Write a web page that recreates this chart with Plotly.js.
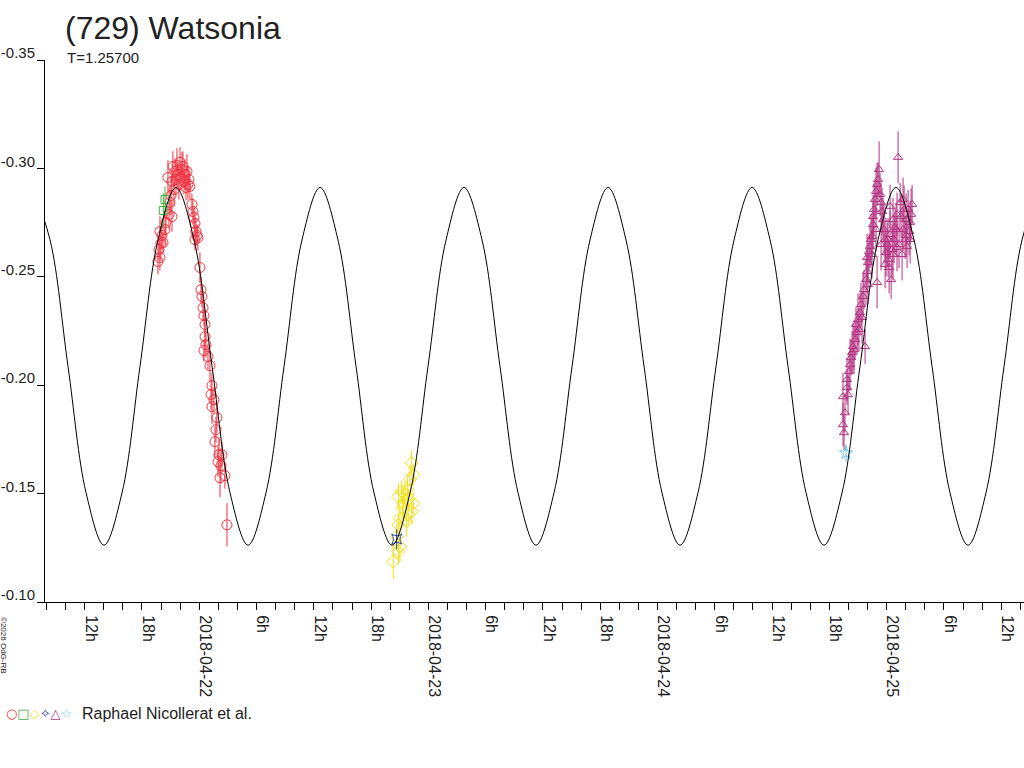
<!DOCTYPE html>
<html>
<head>
<meta charset="utf-8">
<script src="https://cdn.plot.ly/plotly-3.0.1.min.js"></script>
<style>
  html, body { margin: 0; padding: 0; background: #fff; }
  #chart { width: 1024px; height: 768px; }
</style>
</head>
<body>
<div id="chart"></div>
<script>
// time axis: hours since 2018-04-22 00:00 UT, values: relative magnitude

// fitted lightcurve, read at max / min / quarter points
var fitTime = [-17.52, -15.63, -13.75, -11.86, -9.98, -8.09, -6.21, -4.32,
    -2.44, -0.55, 1.34, 3.22, 5.11, 6.99, 8.88, 10.76,
    12.65, 14.53, 16.42, 18.30, 20.19, 22.08, 23.96, 25.85,
    27.73, 29.62, 31.50, 33.39, 35.27, 37.16, 39.05, 40.93,
    42.82, 44.70, 46.59, 48.47, 50.36, 52.24, 54.13, 56.02,
    57.90, 59.79, 61.67, 63.56, 65.44, 67.33, 69.21, 71.10,
    72.98, 74.87, 76.76, 78.64, 80.53, 82.41, 84.30, 86.18, 88.07];
var fitMag = [-0.2912, -0.2670, -0.2087, -0.1504, -0.1262, -0.1504, -0.2087, -0.2670,
    -0.2912, -0.2670, -0.2087, -0.1504, -0.1262, -0.1504, -0.2087, -0.2670,
    -0.2912, -0.2670, -0.2087, -0.1504, -0.1262, -0.1504, -0.2087, -0.2670,
    -0.2912, -0.2670, -0.2087, -0.1504, -0.1262, -0.1504, -0.2087, -0.2670,
    -0.2912, -0.2670, -0.2087, -0.1504, -0.1262, -0.1504, -0.2087, -0.2670,
    -0.2912, -0.2670, -0.2087, -0.1504, -0.1262, -0.1504, -0.2087, -0.2670,
    -0.2912, -0.2670, -0.2087, -0.1504, -0.1262, -0.1504, -0.2087, -0.2670, -0.2912];

// session 1 (red circles)
var redTime = [-4.33, -4.22, -4.12, -4.12, -4.01, -3.91, -3.80, -3.59, -3.49, -3.28,
    -3.17, -3.07, -2.96, -2.86, -2.86, -2.76, -2.65, -2.55, -2.44, -2.34,
    -2.23, -2.13, -2.02, -1.92, -1.81, -1.71, -1.60, -1.50, -1.39, -1.29,
    -1.19, -1.08, -0.98, -0.77, -0.66, -0.56, -0.45, -0.45, -0.35, -0.24,
    -0.14, 0.07, 0.18, 0.28, 0.39, 0.49, 0.60, 0.60, 0.70, 0.49,
    0.91, 1.12, 1.33, 1.23, 1.54, 1.33, 1.85, 1.75, 1.64, 2.06,
    2.38, 1.96, 2.27, 2.69, 2.17, 2.90];
var redMag = [-0.2571, -0.2626, -0.2709, -0.2589, -0.2654, -0.2691, -0.2658, -0.2718, -0.2751, -0.2958,
    -0.2788, -0.2843, -0.2875, -0.2778, -0.2940, -0.3009, -0.2903, -0.2986, -0.2949, -0.3014,
    -0.2972, -0.2926, -0.3028, -0.2958, -0.2995, -0.3009, -0.2940, -0.2972, -0.2912, -0.2986,
    -0.2926, -0.2949, -0.2917, -0.2834, -0.2801, -0.2774, -0.2746, -0.2672, -0.2709, -0.2691,
    -0.2681, -0.2543, -0.2441, -0.2409, -0.2358, -0.2321, -0.2280, -0.2224, -0.2187, -0.2160,
    -0.2132, -0.2090, -0.1998, -0.1957, -0.1933, -0.1901, -0.1850, -0.1795, -0.1740, -0.1679,
    -0.1679, -0.1647, -0.1629, -0.1583, -0.1573, -0.1356];
var redErr = [0.006, 0.005, 0.007, 0.006, 0.008, 0.006, 0.005, 0.007, 0.006, 0.008,
    0.007, 0.006, 0.009, 0.007, 0.006, 0.007, 0.008, 0.006, 0.007, 0.008,
    0.006, 0.007, 0.007, 0.006, 0.008, 0.007, 0.006, 0.007, 0.006, 0.008,
    0.007, 0.006, 0.006, 0.005, 0.006, 0.005, 0.006, 0.005, 0.006, 0.005,
    0.006, 0.007, 0.006, 0.005, 0.006, 0.005, 0.006, 0.007, 0.006, 0.005,
    0.006, 0.007, 0.006, 0.007, 0.006, 0.008, 0.007, 0.006, 0.007, 0.008,
    0.006, 0.007, 0.008, 0.006, 0.009, 0.010];

// session 2 (green squares)
var greenTime = [-3.77, -3.59];
var greenMag = [-0.2806, -0.2857];
var greenErr = [0.008, 0.006];

// session 3 (yellow diamonds)
var yellowTime = [22.25, 22.42, 22.07, 21.20, 20.85, 21.55, 21.89, 21.37, 22.42, 22.25,
    21.89, 21.02, 21.73, 20.85, 20.68, 21.02, 20.85, 20.32, 21.28, 21.80];
var yellowMag = [-0.1641, -0.1587, -0.1564, -0.1510, -0.1487, -0.1495, -0.1472, -0.1456, -0.1456, -0.1418,
    -0.1402, -0.1387, -0.1372, -0.1356, -0.1302, -0.1256, -0.1233, -0.1187, -0.1435, -0.1518];
var yellowErr = [0.006, 0.005, 0.007, 0.005, 0.006, 0.006, 0.005, 0.007, 0.005, 0.006,
    0.005, 0.006, 0.007, 0.005, 0.006, 0.007, 0.006, 0.008, 0.005, 0.006];

// session 4 (blue)
var blueTime = [20.68];
var blueMag = [-0.1290];
var blueErr = [0.0046];

// session 5 (magenta triangles)
var magTime = [67.54, 67.43, 67.64, 67.43, 67.85, 67.85, 68.06, 68.17, 68.27, 68.38,
    68.48, 68.69, 68.90, 68.79, 69.00, 69.21, 69.32, 69.74, 69.53, 69.63,
    69.84, 69.95, 70.05, 69.95, 70.16, 70.26, 70.37, 70.47, 70.58, 70.58,
    70.68, 70.79, 70.89, 71.00, 71.10, 71.00, 71.21, 71.31, 71.42, 71.52,
    71.63, 71.73, 71.84, 71.94, 72.05, 72.15, 72.26, 72.36, 72.36, 72.47,
    72.57, 72.67, 72.78, 72.88, 72.99, 73.09, 73.20, 73.30, 73.41, 73.51,
    73.62, 73.72, 73.83, 73.93, 74.04, 74.14, 74.25, 74.35, 74.46, 74.56,
    74.67, 67.96, 68.59, 69.10, 69.42, 70.05, 70.47, 70.89, 71.42, 71.84,
    72.15, 72.67, 73.09, 73.72, 74.04, 74.46];
var magMag = [-0.1781, -0.1818, -0.1873, -0.1947, -0.1989, -0.2026, -0.2063, -0.2095, -0.2127, -0.2150,
    -0.2178, -0.2210, -0.2243, -0.2280, -0.2303, -0.2335, -0.2372, -0.2178, -0.2409, -0.2441,
    -0.2487, -0.2524, -0.2566, -0.2589, -0.2617, -0.2640, -0.2672, -0.2686, -0.2741, -0.2778,
    -0.2811, -0.2857, -0.2894, -0.2926, -0.2949, -0.2474, -0.2995, -0.2880, -0.2843, -0.2801,
    -0.2764, -0.2718, -0.2672, -0.2612, -0.2649, -0.2580, -0.2543, -0.2825, -0.2695, -0.2487,
    -0.2626, -0.2764, -0.2672, -0.2728, -0.2718, -0.2788, -0.3051, -0.2649, -0.2843, -0.2778,
    -0.2603, -0.2718, -0.2811, -0.2672, -0.2764, -0.2640, -0.2811, -0.2709, -0.2751, -0.2788,
    -0.2834, -0.1956, -0.2164, -0.2256, -0.2312, -0.2464, -0.2603, -0.2718, -0.2649, -0.2557,
    -0.2672, -0.2603, -0.2635, -0.2857, -0.2690, -0.2672];
var magErr = [0.008, 0.010, 0.009, 0.011, 0.008, 0.010, 0.009, 0.012, 0.008, 0.010,
    0.011, 0.009, 0.010, 0.008, 0.012, 0.009, 0.010, 0.008, 0.011, 0.009,
    0.012, 0.010, 0.009, 0.011, 0.008, 0.010, 0.012, 0.009, 0.011, 0.010,
    0.012, 0.009, 0.011, 0.010, 0.008, 0.012, 0.013, 0.010, 0.009, 0.011,
    0.010, 0.012, 0.009, 0.011, 0.010, 0.008, 0.012, 0.010, 0.011, 0.009,
    0.012, 0.010, 0.011, 0.009, 0.012, 0.010, 0.012, 0.011, 0.009, 0.010,
    0.012, 0.010, 0.011, 0.009, 0.012, 0.010, 0.009, 0.011, 0.010, 0.012,
    0.009, 0.009, 0.011, 0.010, 0.012, 0.009, 0.011, 0.010, 0.012, 0.011,
    0.010, 0.012, 0.011, 0.010, 0.009, 0.011];

// session 6 (cyan star)
var cyanTime = [67.75];
var cyanMag = [-0.1687];
var cyanErr = [0.004];

var dayLabels = ["2018-04-22", "2018-04-23", "2018-04-24", "2018-04-25"];
var magTicks = [-0.35, -0.30, -0.25, -0.20, -0.15, -0.10];
var magTickText = ["-0.35", "-0.30", "-0.25", "-0.20", "-0.15", "-0.10"];

var tickVals = [], tickText = [];
for (var h = -16; h <= 86; h += 2) {
    tickVals.push(h);
    var hr = ((h % 24) + 24) % 24;
    if (h % 6 != 0) tickText.push("");
    else if (hr == 0) tickText.push(dayLabels[h / 24]);
    else tickText.push(hr + "h");
}

function session(x, y, err, color, symbol, size) {
    return {
        x: x, y: y, type: "scatter", mode: "markers",
        marker: { symbol: symbol, size: size, color: color, line: { color: color, width: 1 } },
        error_y: { type: "data", array: err, visible: true, color: color, thickness: 1, width: 0 },
        hoverinfo: "skip"
    };
}

var data = [
    session(redTime, redMag, redErr, "#ee3340", "circle-open", 10),
    session(greenTime, greenMag, greenErr, "#44b040", "square-open", 8),
    session(yellowTime, yellowMag, yellowErr, "#f0e010", "diamond-open", 10),
    session(blueTime, blueMag, blueErr, "#2a48b0", "star-square-open", 9),
    session(magTime, magMag, magErr, "#b43282", "triangle-up-open", 8),
    session(cyanTime, cyanMag, cyanErr, "#66c8e8", "star-open", 10),
    {
        x: fitTime, y: fitMag, type: "scatter", mode: "lines",
        line: { color: "#000", width: 1, shape: "spline", smoothing: 1 },
        hoverinfo: "skip"
    }
];

var font = "Liberation Sans, Arial, sans-serif";

var layout = {
    width: 1024, height: 768,
    margin: { l: 45, r: 0, t: 60, b: 166 },
    paper_bgcolor: "#fff", plot_bgcolor: "#fff",
    showlegend: false,
    font: { family: font, color: "#222" },
    title: {
        text: "(729) Watsonia",
        font: { family: font, size: 32, color: "#222" },
        xref: "container", yref: "container",
        x: 65 / 1024, xanchor: "left",
        y: 1 - 28 / 768, yanchor: "middle"
    },
    xaxis: {
        range: [-16.16, 86.39],
        tickmode: "array", tickvals: tickVals, ticktext: tickText,
        tickangle: 90, ticklabelshift: 6, ticklabelstandoff: 2,
        ticks: "outside", ticklen: 7, tickcolor: "#000", tickwidth: 1,
        tickfont: { family: font, size: 16, color: "#222" },
        showline: true, linecolor: "#000", linewidth: 1,
        showgrid: false, zeroline: false
    },
    yaxis: {
        range: [-0.10, -0.35],
        tickmode: "array", tickvals: magTicks, ticktext: magTickText,
        ticklabelshift: 7, ticklabelstandoff: -1,
        ticks: "outside", ticklen: 7, tickcolor: "#000", tickwidth: 1,
        tickfont: { family: font, size: 15, color: "#222" },
        showline: true, linecolor: "#000", linewidth: 1,
        showgrid: false, zeroline: false
    },
    annotations: [
        {
            text: "T=1.25700", xref: "paper", yref: "paper",
            x: 20 / 979, y: 1.004, xanchor: "left", yanchor: "middle",
            showarrow: false, font: { family: font, size: 15, color: "#222" }
        },
        {
            text: "<span style='color:#ee3340'>○</span><span style='color:#44b040'>□</span>" +
                "<span style='color:#f0e010'>◇</span><span style='color:#2a48b0'>✧</span>" +
                "<span style='color:#b43282'>△</span><span style='color:#66c8e8'>☆</span>",
            xref: "paper", yref: "paper",
            x: -41 / 979, y: -111 / 542, xanchor: "left", yanchor: "middle",
            showarrow: false, font: { family: "DejaVu Sans", size: 13 }
        },
        {
            text: "Raphael Nicollerat et al.", xref: "paper", yref: "paper",
            x: 35 / 979, y: -111 / 542, xanchor: "left", yanchor: "middle",
            showarrow: false, font: { family: font, size: 16, color: "#222" }
        },
        {
            text: "©2026 OdG-RB", xref: "paper", yref: "paper",
            x: -41 / 979, y: -43 / 542, xanchor: "center", yanchor: "middle",
            textangle: 90, showarrow: false, font: { family: font, size: 8, color: "#222" }
        }
    ]
};

Plotly.newPlot("chart", data, layout, { displayModeBar: false, staticPlot: true });
</script>
</body>
</html>
